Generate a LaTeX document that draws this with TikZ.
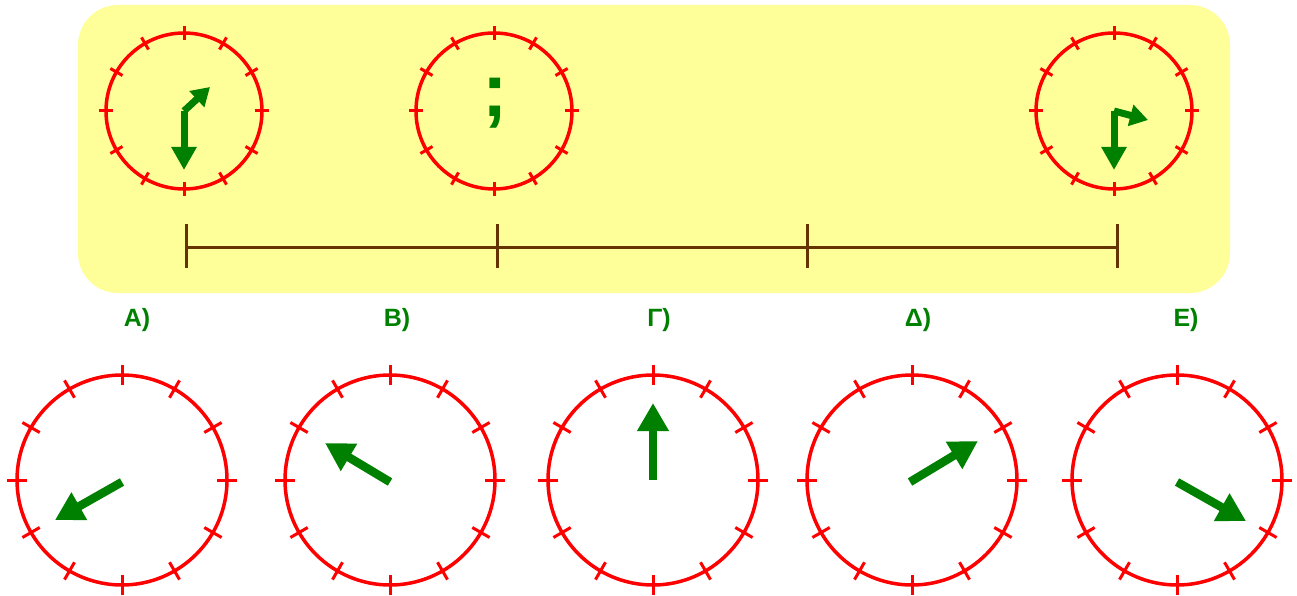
\documentclass[tikz,border=0pt]{standalone}
\usepackage{fontspec}
\setmainfont{Liberation Sans}
\usetikzlibrary{arrows.meta}
\definecolor{yel}{HTML}{FFFF99}
\definecolor{grn}{HTML}{008000}
\definecolor{brn}{RGB}{102,51,0}
\begin{document}
\begin{tikzpicture}[x=1pt,y=-1pt,
  dial/.style={draw=red,line width=3.5pt},
  dialtick/.style={draw=red,line width=3pt},
  bighand/.style={draw=grn,line width=8.5pt,-{Triangle[length=28pt,width=30pt]}},
  minhand/.style={draw=grn,line width=7pt,-{Triangle[length=23pt,width=24pt]}},
  hourhand/.style={draw=grn,line width=7pt,-{Triangle[length=18pt,width=21pt]}},
  lab/.style={text=grn,font=\bfseries\fontsize{25}{27}\selectfont,inner sep=0pt},
  axisline/.style={draw=brn,line width=3pt},
  ]
\useasboundingbox (0,0) rectangle (1297,596);
\fill[yel,rounded corners=40pt] (78,5) rectangle (1230,293);
% top clocks
\foreach \n/\x in {t1/184,t2/494,t3/1114}{
  \coordinate (\n) at (\x,111);
  \draw[dial] (\n) circle[radius=78];
  \foreach \a in {0,30,...,330}
    \draw[dialtick,shift={(\n)}] (\a:71) -- (\a:85);
}
% bottom clocks
\foreach \n/\x in {bA/122,bB/390,bC/653,bD/912,bE/1177}{
  \coordinate (\n) at (\x,480);
  \draw[dial] (\n) circle[radius=105];
  \foreach \a in {0,30,...,330}
    \draw[dialtick,shift={(\n)}] (\a:95) -- (\a:115);
}
% top hands
\draw[minhand] (184,111) -- (184,170);
\draw[hourhand] (184,111) -- (210,87);
\draw[minhand] (1114,111) -- (1114,170);
\draw[hourhand] (1114,111) -- (1148,120);
\node[text=grn,font=\bfseries\fontsize{76}{76}\selectfont,inner sep=0pt] (q) at (495,103) {;};
% number line
\coordinate (p0) at (186,247);
\coordinate (p3) at (1117,247);
\draw[axisline] (p0) -- (p3);
\foreach \x in {186,497,807,1117}
  \draw[axisline] (\x,224) -- (\x,268);
% labels
\node[lab] (la) at (137,320) {Α)};
\node[lab] (lb) at (397,320) {Β)};
\node[lab] (lc) at (659,320) {Γ)};
\node[lab] (ld) at (918,320) {Δ)};
\node[lab] (le) at (1186,320) {Ε)};
% bottom hands
\draw[bighand] (122,482) -- (55,520);
\draw[bighand] (390,482) -- (325,443);
\draw[bighand] (653,480) -- (653,403);
\draw[bighand] (910,482) -- (978,441);
\draw[bighand] (1177,482) -- (1246,521);
\end{tikzpicture}
\end{document}
